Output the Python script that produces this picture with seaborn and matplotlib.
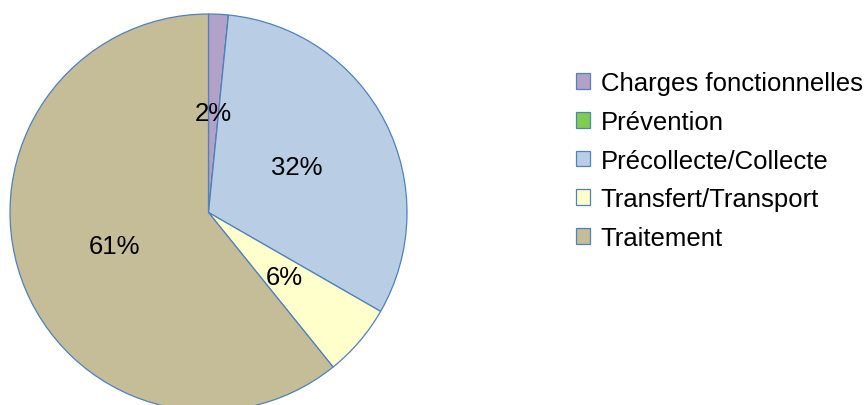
import matplotlib
matplotlib.use('Agg')
import matplotlib.pyplot as plt
import seaborn as sns

# budget share by category (percent)
categories = ['Charges fonctionnelles', 'Prévention', 'Précollecte/Collecte',
              'Transfert/Transport', 'Traitement']
shares = [1.6, 0.0, 31.7, 5.9, 60.8]
colors = ['#b3a2c7', '#7fcc4e', '#b9cde5', '#ffffcc', '#c4bd97']

sns.set_style('white')
plt.rcParams['font.family'] = ['Liberation Sans', 'DejaVu Sans']

fig = plt.figure(figsize=(8.67, 4.06), dpi=100)
ax = fig.add_axes([10 / 867, -6 / 406, 397 / 867, 397 / 406])


def pct(v):
    return '%.0f%%' % v if v >= 0.5 else ''


wedges, texts, autotexts = ax.pie(
    shares, colors=colors, startangle=90, counterclock=False,
    autopct=pct, pctdistance=0.5,
    wedgeprops={'edgecolor': '#4f81bd', 'linewidth': 0.9},
    textprops={'fontsize': 18.5, 'color': 'black'})
ax.set_xlim(-1, 1)
ax.set_ylim(-1, 1)
ax.set_aspect('equal')

leg = fig.legend(wedges, categories, loc='upper left', bbox_to_anchor=(566 / 867, 1 - 62 / 406),
                 frameon=False, fontsize=18.5, handlelength=0.55, handleheight=0.55,
                 handletextpad=0.4, labelspacing=0.57, borderaxespad=0)
for t in leg.get_texts():
    t.set_color('black')

fig.savefig('out.png', dpi=100)
